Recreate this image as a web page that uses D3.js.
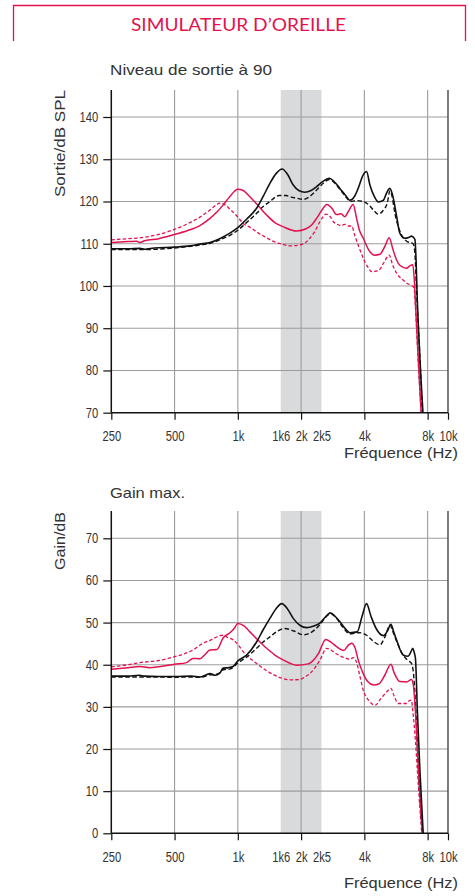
<!DOCTYPE html>
<html>
<head>
<meta charset="utf-8">
<script src="https://cdn.jsdelivr.net/npm/d3@7"></script>
<style>
  html, body { margin: 0; padding: 0; background: #fff; }
  svg { display: block; }
</style>
</head>
<body>
<svg id="chart" width="475" height="896"></svg>
<script>
// ---------- DATA ----------
const xTicks = [250, 500, 1000, 1600, 2000, 2500, 4000, 8000, 10000];
const xTickLabels = ["250", "500", "1k", "1k6", "2k", "2k5", "4k", "8k", "10k"];
const xGridFreqs = [500, 1000, 2000, 4000, 8000];
const xTickMarks = [250, 500, 1000, 2000, 4000, 8000, 10000];
const bandRange = [1600, 2500];
const outYTicks = [70, 80, 90, 100, 110, 120, 130, 140];
const gainYTicks = [0, 10, 20, 30, 40, 50, 60, 70];

// Output level at 90 (dB SPL)
const outBlackSolid = [[250,108.8],[300,108.8],[342,108.9],[360,108.7],[400,109.0],[500,109.2],[592,109.5],[660,109.9],[737,110.3],[820,111.2],[917,112.5],[1000,113.8],[1100,115.8],[1228,118.4],[1320,121.2],[1421,124.3],[1520,126.6],[1626,127.7],[1720,126.5],[1835,123.9],[1950,122.6],[2085,122.2],[2230,122.6],[2370,123.5],[2530,124.7],[2720,125.5],[2900,124.5],[3058,123.1],[3250,121.5],[3413,120.3],[3600,121.3],[3738,123.1],[3950,126.3],[4098,127.1],[4250,123.9],[4470,121.1],[4656,119.9],[4925,120.3],[5100,122.0],[5289,123.1],[5450,121.5],[5700,116.4],[5900,112.5],[6230,111.3],[6500,111.5],[6710,111.8],[6850,111.5],[6960,111.0],[7050,106],[7130,98],[7300,86],[7600,70]];
const outBlackDashed = [[250,108.6],[350,108.6],[500,109.0],[660,109.7],[737,110.1],[820,110.9],[917,112.0],[1000,113.2],[1100,115.0],[1228,117.2],[1320,118.8],[1421,120.0],[1570,121.4],[1700,121.4],[1769,121.1],[1900,120.8],[2046,120.5],[2200,121.2],[2370,122.7],[2550,124.3],[2720,125.2],[2900,124.3],[3100,122.5],[3300,120.8],[3430,120.0],[3650,120.2],[3950,120.0],[4200,119.2],[4450,117.8],[4656,117.0],[4900,117.8],[5150,119.8],[5289,122.5],[5400,121.5],[5600,117],[5900,113],[6350,110.6],[6830,110.0],[6950,108],[7100,98],[7300,86],[7550,70]];
const outPinkSolid = [[250,110.3],[300,110.5],[330,110.6],[342,110.3],[360,110.7],[420,111.2],[500,112.2],[592,113.3],[660,114.3],[737,116.0],[795,117.5],[852,119.2],[917,121.2],[1000,122.9],[1060,122.6],[1141,121.1],[1250,119.0],[1371,116.8],[1500,115.0],[1650,114.0],[1900,113.0],[2125,113.6],[2250,114.5],[2370,116.0],[2500,117.8],[2650,119.3],[2800,118.4],[2950,116.9],[3100,117.1],[3230,116.4],[3345,117.5],[3538,119.3],[3672,116.0],[3790,113.2],[3950,111.3],[4250,108.1],[4470,107.3],[4740,107.5],[5000,109.3],[5250,111.4],[5480,108.5],[5700,106.1],[5900,104.9],[6350,104.2],[6600,104.8],[6800,105.0],[6900,102],[7000,96],[7200,84],[7450,70]];
const outPinkDashed = [[250,110.9],[300,111.2],[342,111.4],[420,112.2],[500,113.4],[592,115.0],[660,116.3],[737,118.0],[790,119.2],[822,119.6],[870,119.2],[917,118.2],[1000,116.3],[1061,114.8],[1150,113.8],[1228,112.8],[1350,111.6],[1470,110.6],[1600,110.0],[1769,109.5],[1970,109.7],[2100,110.3],[2200,111.3],[2330,113.0],[2457,115.2],[2630,117.0],[2750,116.4],[2850,115.2],[3000,114.5],[3100,114.3],[3230,114.6],[3350,114.2],[3480,114.2],[3600,112.0],[3750,109.5],[3950,106.6],[4150,104.5],[4330,103.4],[4656,103.6],[4950,105.5],[5250,107.3],[5450,105.0],[5700,103.0],[6120,101.4],[6400,100.6],[6710,100.1],[6900,99.5],[7000,95],[7200,83],[7450,70]];

// Max gain (dB)
const gainBlackSolid = [[250,37.3],[300,37.3],[340,37.5],[360,37.3],[420,37.2],[500,37.2],[600,37.3],[660,37.1],[700,37.5],[737,37.9],[780,37.5],[820,38.0],[852,39.2],[900,39.3],[950,39.6],[1000,40.9],[1101,42.3],[1228,45.4],[1320,48.3],[1421,51.0],[1520,53.3],[1618,54.5],[1720,53.3],[1835,51.0],[1980,49.3],[2125,48.8],[2300,49.2],[2457,49.9],[2620,51.4],[2750,52.3],[2900,51.5],[3058,50.2],[3250,48.5],[3413,47.6],[3700,47.8],[3900,51.5],[4098,54.5],[4300,51.5],[4550,48.6],[4925,46.9],[5150,48],[5350,49.6],[5500,48.0],[5700,45.8],[6120,42.3],[6460,42.0],[6650,43.0],[6800,43.9],[6900,43.0],[7000,41.5],[7150,29],[7350,15],[7620,0]];
const gainBlackDashed = [[250,37.1],[300,37.1],[400,37.1],[500,37.0],[600,37.1],[660,37.0],[737,37.6],[800,37.8],[852,38.8],[920,39.0],[1000,40.4],[1100,41.8],[1228,43.9],[1320,45.4],[1421,46.6],[1550,48.0],[1670,48.6],[1850,48.0],[2046,47.1],[2200,47.5],[2457,49.5],[2620,51.3],[2770,52.1],[2950,51.0],[3150,49.0],[3413,47.3],[3600,47.5],[3790,47.6],[4098,47.0],[4400,45.6],[4740,44.7],[5000,46.5],[5300,49.4],[5450,48.0],[5700,45.5],[6120,42.3],[6450,41.0],[6700,40.3],[6850,38],[7000,31],[7250,14],[7550,0]];
const gainPinkSolid = [[250,38.9],[300,39.3],[342,39.6],[380,39.3],[420,39.5],[500,40.1],[570,40.5],[612,41.5],[660,41.4],[700,42.5],[737,43.5],[795,43.6],[852,46.4],[917,47.6],[960,48.6],[1000,49.8],[1070,49.2],[1141,47.8],[1250,45.8],[1371,43.9],[1500,42.3],[1650,41.1],[1900,39.9],[2160,40.2],[2300,41.2],[2420,42.7],[2620,46.0],[2780,45.3],[2950,44.3],[3100,43.6],[3200,43.4],[3350,44.6],[3480,45.1],[3600,44.2],[3740,41.1],[3950,37.9],[4150,36.0],[4420,35.2],[4700,35.5],[5000,37.5],[5350,40.1],[5550,38],[5900,36.0],[6350,35.9],[6700,36.5],[6850,35],[6960,30.8],[7150,20],[7350,9],[7550,0]];
const gainPinkDashed = [[250,39.5],[300,40.0],[342,40.5],[420,41.0],[500,41.9],[612,43.5],[683,45.1],[737,45.8],[823,46.9],[852,47.0],[900,46.4],[951,45.9],[1000,44.8],[1061,43.1],[1228,40.3],[1350,38.8],[1470,37.7],[1600,36.9],[1769,36.4],[1970,36.5],[2100,37.2],[2200,37.9],[2330,39.3],[2457,41.1],[2650,43.9],[2750,43.6],[2900,42.8],[3100,42.0],[3280,41.5],[3400,41.3],[3560,41.7],[3700,40.0],[3800,37.5],[3950,34.0],[4200,31.5],[4500,30.4],[4800,32.0],[5100,33.5],[5350,34.4],[5550,32.5],[5800,30.8],[6350,30.8],[6550,31.5],[6700,31.6],[6800,29],[6950,24],[7150,15],[7350,6],[7500,0]];

// ---------- STYLE ----------
const PINK = "#e3124f";
const BLACK = "#111";
const GRID = "#9c9c9c";
const BAND = "#d9dadb";
const TEXT = "#333";
const TICK_FONT = "'Liberation Sans', Arial, sans-serif";
const LABEL_FONT = "'Liberation Sans', Arial, sans-serif";
const TICK_SQUEEZE = 0.8;

const svg = d3.select("#chart");

// Header box
svg.append("path")
  .attr("d", "M13.5,41 V5.5 H465.5 V41")
  .attr("fill", "none").attr("stroke", PINK).attr("stroke-width", 1.3);
svg.append("text")
  .attr("x", 238.5).attr("y", 30.5)
  .attr("text-anchor", "middle")
  .attr("font-family", "Lato, 'Open Sans', sans-serif")
  .attr("font-size", 17.5)
  .attr("fill", PINK)
  .attr("textLength", 215).attr("lengthAdjust", "spacingAndGlyphs")
  .text("SIMULATEUR D\u2019OREILLE");

const x = d3.scaleLog().domain([250, 10000]).range([111.3, 448]);

function squeeze(sel) {
  sel.each(function() {
    const w = this.getComputedTextLength();
    d3.select(this).attr("textLength", w * TICK_SQUEEZE).attr("lengthAdjust", "spacingAndGlyphs");
  });
}

function drawChart(cfg) {
  const y = d3.scaleLinear().domain(cfg.yDomain).range(cfg.yRange);
  const g = svg.append("g");
  const x0 = x(250), x1 = x(10000);
  const yBase = y(cfg.yDomain[0]);
  const top = cfg.plotTop;

  // band
  g.append("rect")
    .attr("x", x(bandRange[0])).attr("y", top)
    .attr("width", x(bandRange[1]) - x(bandRange[0]))
    .attr("height", yBase - top)
    .attr("fill", BAND);

  // vertical grid
  g.selectAll(".vg").data(xGridFreqs).join("line")
    .attr("x1", d => x(d)).attr("x2", d => x(d))
    .attr("y1", top).attr("y2", yBase)
    .attr("stroke", GRID).attr("stroke-width", 1.1);

  // horizontal grid
  g.selectAll(".hg").data(cfg.yTicks.slice(1)).join("line")
    .attr("x1", x0).attr("x2", x1)
    .attr("y1", d => y(d)).attr("y2", d => y(d))
    .attr("stroke", GRID).attr("stroke-width", 1.1);

  // right border
  g.append("line")
    .attr("x1", x1).attr("x2", x1).attr("y1", top).attr("y2", yBase)
    .attr("stroke", "#444").attr("stroke-width", 1.4);

  // clip
  const clipId = "clip" + cfg.id;
  svg.append("clipPath").attr("id", clipId).append("rect")
    .attr("x", x0).attr("y", top).attr("width", x1 - x0).attr("height", yBase - top + 1);

  const line = d3.line().x(d => x(d[0])).y(d => y(d[1])).curve(d3.curveMonotoneX);
  const series = [
    { data: cfg.pinkDashed, color: PINK, dash: "3.5,2.2", w: 1.3 },
    { data: cfg.blackDashed, color: BLACK, dash: "4.5,2.5", w: 1.4 },
    { data: cfg.pinkSolid, color: PINK, dash: null, w: 1.5 },
    { data: cfg.blackSolid, color: BLACK, dash: null, w: 1.6 }
  ];
  const cg = g.append("g").attr("clip-path", `url(#${clipId})`);
  series.forEach(s => {
    cg.append("path")
      .attr("d", line(s.data))
      .attr("fill", "none")
      .attr("stroke", s.color)
      .attr("stroke-width", s.w)
      .attr("stroke-dasharray", s.dash)
      .attr("stroke-linejoin", "round");
  });

  // left axis
  const yAxis = d3.axisLeft(y).tickValues(cfg.yTicks).tickSize(8).tickPadding(5).tickFormat(d3.format("d"));
  const ya = g.append("g").attr("transform", `translate(${x0},0)`).call(yAxis);
  ya.select(".domain").remove();
  ya.selectAll(".tick line").attr("stroke", BLACK).attr("stroke-width", 1.2);
  ya.selectAll(".tick text").attr("font-family", TICK_FONT).attr("font-size", 14).attr("fill", TEXT).call(squeeze);
  g.append("line").attr("x1", x0).attr("x2", x0).attr("y1", top).attr("y2", yBase)
    .attr("stroke", BLACK).attr("stroke-width", 1.5);

  // bottom axis
  const xAxis = d3.axisBottom(x).tickValues(xTicks).tickSize(7).tickPadding(11.5)
    .tickFormat((d, i) => xTickLabels[i]);
  const xa = g.append("g").attr("transform", `translate(0,${yBase})`).call(xAxis);
  xa.select(".domain").remove();
  xa.selectAll(".tick line")
    .attr("stroke", BLACK).attr("stroke-width", 1.2)
    .attr("display", d => xTickMarks.includes(d) ? null : "none");
  xa.selectAll(".tick text").attr("font-family", TICK_FONT).attr("font-size", 14).attr("fill", TEXT).call(squeeze);
  g.append("line").attr("x1", x0).attr("x2", x1).attr("y1", yBase).attr("y2", yBase)
    .attr("stroke", BLACK).attr("stroke-width", 1.5);

  // titles
  g.append("text").attr("x", 110).attr("y", cfg.titleY)
    .attr("font-family", LABEL_FONT).attr("font-size", 15).attr("fill", TEXT)
    .attr("textLength", cfg.titleLen).attr("lengthAdjust", "spacingAndGlyphs")
    .text(cfg.title);
  g.append("text")
    .attr("transform", `translate(65,${cfg.yLabelCenter}) rotate(-90)`)
    .attr("text-anchor", "middle")
    .attr("font-family", LABEL_FONT).attr("font-size", 15).attr("fill", TEXT)
    .attr("textLength", cfg.yLabelLen).attr("lengthAdjust", "spacingAndGlyphs")
    .text(cfg.yLabel);
  g.append("text").attr("x", 458).attr("y", cfg.xLabelY)
    .attr("text-anchor", "end")
    .attr("font-family", LABEL_FONT).attr("font-size", 14.5).attr("fill", TEXT)
    .attr("textLength", 114).attr("lengthAdjust", "spacingAndGlyphs")
    .text("Fréquence (Hz)");
}

drawChart({
  id: "out", yDomain: [70, 140], yRange: [412.7, 117], plotTop: 90, yTicks: outYTicks,
  blackSolid: outBlackSolid, blackDashed: outBlackDashed, pinkSolid: outPinkSolid, pinkDashed: outPinkDashed,
  title: "Niveau de sortie à 90", titleY: 75, titleLen: 162,
  yLabel: "Sortie/dB SPL", yLabelCenter: 143.5, yLabelLen: 107,
  xLabelY: 458
});
drawChart({
  id: "gain", yDomain: [0, 70], yRange: [833.3, 538.3], plotTop: 511, yTicks: gainYTicks,
  blackSolid: gainBlackSolid, blackDashed: gainBlackDashed, pinkSolid: gainPinkSolid, pinkDashed: gainPinkDashed,
  title: "Gain max.", titleY: 497.5, titleLen: 75,
  yLabel: "Gain/dB", yLabelCenter: 541, yLabelLen: 58,
  xLabelY: 888
});
</script>
</body>
</html>
